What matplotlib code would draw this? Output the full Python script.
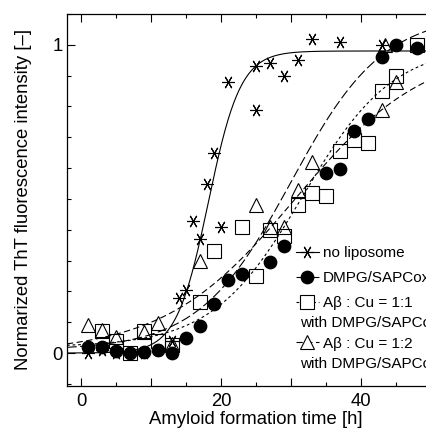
import numpy as np
import matplotlib
matplotlib.use("Agg")
import matplotlib.pyplot as plt
from matplotlib.lines import Line2D

plt.rcParams['font.family'] = ['Liberation Sans', 'DejaVu Sans']
plt.rcParams['lines.scale_dashes'] = False

# ---- data ----
star_x = [1, 3, 5, 7, 9, 11, 13, 14, 15, 16, 17, 18, 19, 20, 21, 25, 25, 27, 29, 31, 33, 37, 43]
star_y = [0.0, 0.01, 0.0, 0.0, 0.0, 0.01, 0.04, 0.18, 0.205, 0.43, 0.37, 0.55, 0.65, 0.41, 0.88,
          0.93, 0.79, 0.94, 0.90, 0.95, 1.02, 1.01, 1.00]

circ_x = [1, 3, 5, 7, 9, 11, 13, 15, 17, 19, 21, 23, 27, 29, 35, 37, 39, 41, 43, 45, 48]
circ_y = [0.02, 0.02, 0.006, 0.0, 0.004, 0.01, 0.0, 0.048, 0.089, 0.16, 0.237, 0.255, 0.296,
          0.348, 0.585, 0.596, 0.72, 0.76, 0.96, 1.0, 0.99]

sq_x = [3, 5, 7, 9, 11, 13, 17, 19, 23, 25, 27, 29, 31, 33, 35, 37, 39, 41, 43, 45, 48]
sq_y = [0.07, 0.04, 0.0, 0.07, 0.04, 0.026, 0.167, 0.33, 0.41, 0.25, 0.40, 0.38, 0.48, 0.52,
        0.51, 0.654, 0.69, 0.68, 0.85, 0.90, 1.0]

tri_x = [1, 3, 5, 9, 11, 13, 17, 25, 27, 29, 31, 33, 43, 43.5, 45]
tri_y = [0.09, 0.075, 0.053, 0.067, 0.096, 0.03, 0.30, 0.48, 0.41, 0.41, 0.53, 0.62, 0.79, 1.0, 0.88]

# sigmoidal fit parameters: [base, top, x0, dx]
fit_star = [0.0, 0.98, 18.2, 2.3]
fit_circ = [0.01, 1.10, 30.0, 6.6]
fit_sq = [0.02, 1.00, 31.7, 6.47]
fit_tri = [0.0, 1.00, 30.6, 9.36]

labels = ["no liposome", "DMPG/SAPCox", "A\u03b2 : Cu = 1:1", "with DMPG/SAPCox",
          "A\u03b2 : Cu = 1:2", "with DMPG/SAPCox"]
xtick_vals = [0, 20, 40]
ytick_vals = [0, 1]


def sig(x, p):
    b, t, x0, dx = p
    return b + (t - b) / (1 + np.exp(-(x - x0) / dx))


fig = plt.figure(figsize=(4.27, 4.30), dpi=100)
W, H = 427, 430
ax = fig.add_axes([67 / W, (H - 385.7) / H, 378 / W, 371.7 / H])
ax.set_xlim(-2, 52)
ax.set_ylim(-0.106, 1.1)

xx = np.linspace(-2, 52, 400)
lw = 0.8
ax.plot(xx, sig(xx, fit_star), color='black', lw=lw, ls='-')
ax.plot(xx, sig(xx, fit_circ), color='black', lw=lw, dashes=(7, 2.5))
ax.plot(xx, sig(xx, fit_sq), color='black', lw=lw, dashes=(2, 2))
ax.plot(xx, sig(xx, fit_tri), color='black', lw=lw, dashes=(4.5, 2.5))

ms = 9.3
star_m = (6, 2, 90)
ax.plot(star_x, star_y, ls='none', marker=star_m, ms=ms, mec='black', mew=0.8)
ax.plot(circ_x, circ_y, ls='none', marker='o', ms=8.9, mfc='black', mec='black')
ax.plot(sq_x, sq_y, ls='none', marker='s', ms=9.5, mfc='none', mec='black', mew=0.8)
ax.plot(tri_x, tri_y, ls='none', marker='^', ms=9.5, mfc='none', mec='black', mew=0.8)

# ticks
ax.set_xticks(np.arange(0, 51, 10))
ax.set_xticks(np.arange(5, 51, 10), minor=True)
ax.set_xticklabels([str(v) if v in xtick_vals else '' for v in range(0, 51, 10)])
ax.set_yticks(ytick_vals)
ax.set_yticks([v / 10 for v in range(-1, 12) if v not in (0, 10)], minor=True)
ax.tick_params(which='both', direction='in', top=True, right=True, labelsize=13.3, width=0.8)
ax.tick_params(axis='x', which='major', length=6, pad=5)
ax.tick_params(axis='y', which='major', length=6, pad=3)
ax.tick_params(which='minor', length=3)
for s in ax.spines.values():
    s.set_linewidth(0.9)

ax.set_xlabel("Amyloid formation time [h]", fontsize=13.3, labelpad=1)
ax.set_ylabel("Normarized ThT fluorescence intensity [\u2013]", fontsize=13.3)
ax.yaxis.set_label_coords(-0.093, 0.5)

# legend
h_star = Line2D([], [], color='black', lw=lw, marker=star_m, ms=ms, mew=0.8)
h_circ = Line2D([], [], color='black', lw=lw, marker='o', ms=8.9, dashes=(7, 2.5))
h_sq = Line2D([], [], color='black', lw=lw, marker='s', ms=9.5, mfc='white', mew=0.8, dashes=(2, 2))
h_tri = Line2D([], [], color='black', lw=lw, marker='^', ms=9.5, mfc='white', mew=0.8, dashes=(4.5, 2.5))
blank = Line2D([], [], color='none', lw=0)

common = dict(frameon=False, loc='upper left', fontsize=11, handlelength=1.5,
              handletextpad=0.25, borderpad=0, borderaxespad=0, numpoints=1)
leg1 = ax.legend([h_star, h_circ], labels[:2], bbox_to_anchor=(296 / W, 1 - 246 / H),
                 bbox_transform=fig.transFigure, labelspacing=0.72, **common)
ax.add_artist(leg1)
leg2 = ax.legend([h_sq, blank, h_tri, blank], labels[2:], bbox_to_anchor=(296 / W, 1 - 296 / H),
                 bbox_transform=fig.transFigure, labelspacing=0.42, **common)
for i in (1, 3):
    leg2.get_texts()[i].set_fontsize(11)
    leg2.get_texts()[i].set_x(-23)

fig.savefig("out.png", dpi=100)
